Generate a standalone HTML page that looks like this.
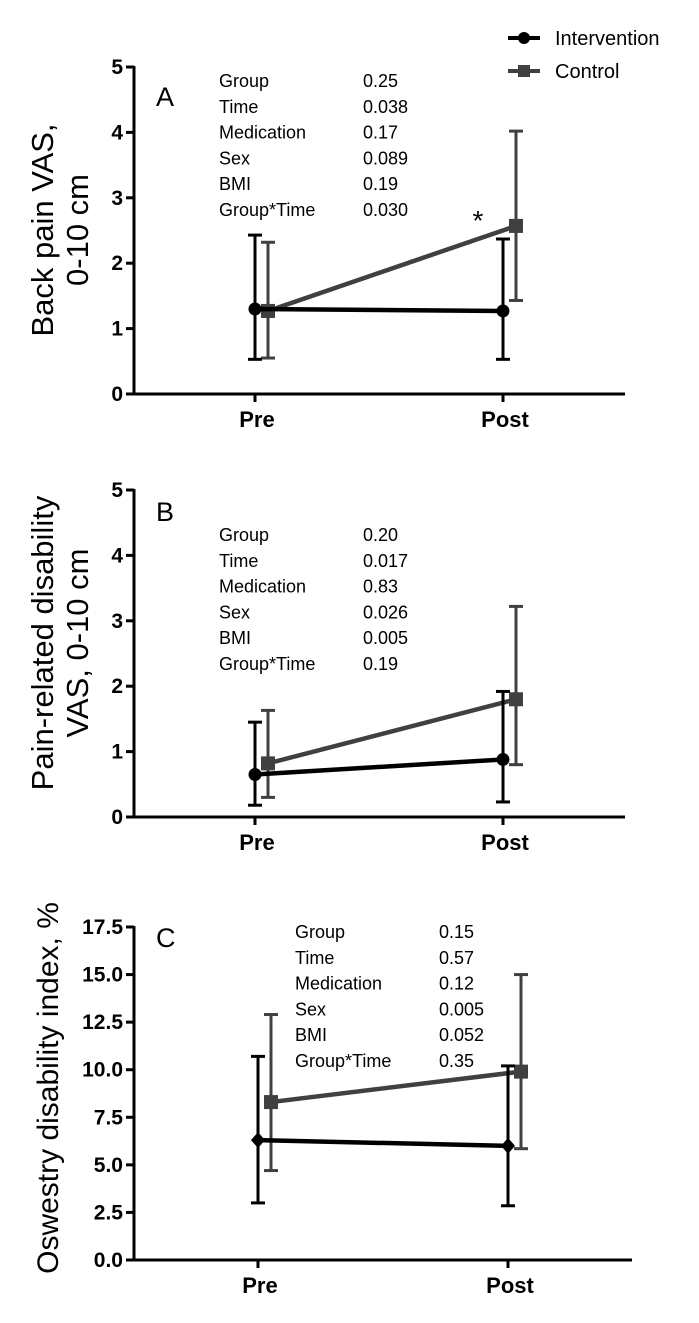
<!DOCTYPE html>
<html><head><meta charset="utf-8"><style>
html,body{margin:0;padding:0;background:#fff;}
svg{display:block;font-family:"Liberation Sans",Arial,sans-serif;}
</style></head><body>
<svg id="fig" width="699" height="1323" viewBox="0 0 699 1323">
<g>
 <g>
  <line x1="508" y1="38" x2="540" y2="38" stroke="#000" stroke-width="4"/>
  <circle cx="524" cy="38" r="6" fill="#000"/>
  <text x="555" y="45" font-size="20">Intervention</text>
 </g>
 <g>
  <line x1="508" y1="71" x2="540" y2="71" stroke="#404040" stroke-width="4"/>
  <rect x="518" y="65" width="12" height="12" fill="#404040"/>
  <text x="555" y="78" font-size="20">Control</text>
 </g>
</g>
</svg>
<script>
const categories = ["Pre", "Post"];
const panelLetters = ["A", "B", "C"];
const statLabels = ["Group", "Time", "Medication", "Sex", "BMI", "Group*Time"];
const statsA = ["0.25", "0.038", "0.17", "0.089", "0.19", "0.030"];
const statsB = ["0.20", "0.017", "0.83", "0.026", "0.005", "0.19"];
const statsC = ["0.15", "0.57", "0.12", "0.005", "0.052", "0.35"];
const ticksAB = [0, 1, 2, 3, 4, 5];
const ticksC = [0, 2.5, 5, 7.5, 10, 12.5, 15, 17.5];
const intA = [1.30, 1.27]; const intALo = [0.53, 0.53]; const intAHi = [2.43, 2.37];
const ctlA = [1.27, 2.57]; const ctlALo = [0.55, 1.43]; const ctlAHi = [2.32, 4.02];
const intB = [0.65, 0.88]; const intBLo = [0.18, 0.23]; const intBHi = [1.45, 1.92];
const ctlB = [0.82, 1.80]; const ctlBLo = [0.30, 0.80]; const ctlBHi = [1.63, 3.22];
const intC = [6.3, 6.0]; const intCLo = [3.0, 2.85]; const intCHi = [10.7, 10.2];
const ctlC = [8.3, 9.9]; const ctlCLo = [4.7, 5.85]; const ctlCHi = [12.9, 15.0];

const NS = "http://www.w3.org/2000/svg";
const svg = document.getElementById("fig");
function mk(tag, attrs, parent) {
  const e = document.createElementNS(NS, tag);
  for (const k in attrs) e.setAttribute(k, attrs[k]);
  (parent || svg).appendChild(e);
  return e;
}

function panel(cfg) {
  const g = mk("g", {});
  
  
  const x0 = 134, x1 = cfg.xEnd;
  const yTop = cfg.yTop, yBot = cfg.yBot, yMax = cfg.yMax;
  const y = v => yBot - (v / yMax) * (yBot - yTop);
  const xI = i => cfg.xPre + i * (cfg.xPost - cfg.xPre);
  const xc = i => xI(i) + 13;
  const ax = mk("g", {}, g);
  
  
  mk("line", {x1: x0, y1: yTop - 1, x2: x0, y2: yBot + 1.5, stroke: "#000", "stroke-width": 3}, ax);
  cfg.ticks.forEach(t => {
    mk("line", {x1: x0 - 8, y1: y(t), x2: x0, y2: y(t), stroke: "#000", "stroke-width": 3}, ax);
    const tx = mk("text", {x: x0 - 11, y: y(t) + 7, "font-size": 21, "font-weight": "bold", "text-anchor": "end"}, ax);
    tx.textContent = cfg.fmt(t);
    
    
  });
  const xa = mk("g", {}, g);
  
  
  mk("line", {x1: x0, y1: yBot, x2: x1, y2: yBot, stroke: "#000", "stroke-width": 3}, xa);
  categories.forEach((c, i) => {
    mk("line", {x1: xI(i), y1: yBot, x2: xI(i), y2: yBot + 8, stroke: "#000", "stroke-width": 3}, xa);
    const tx = mk("text", {x: xI(i) + 2, y: yBot + 33, "font-size": 22, "font-weight": "bold", "text-anchor": "middle"}, xa);
    tx.textContent = c;
    
    
  });
  const yt = mk("text", {transform: "translate(" + cfg.ylX + "," + cfg.ylY + ") rotate(-90)", "font-size": cfg.ylSize, "text-anchor": "middle"}, g);
  
  
  cfg.ylLines.forEach((l, i) => {
    const ts = mk("tspan", {x: 0, dy: i === 0 ? 0 : 35}, yt);
    ts.textContent = l;
  });
  const lt = mk("text", {x: 156, y: cfg.letterY, "font-size": 27}, g);
  lt.textContent = cfg.letter;
  
  
  const st = mk("g", {}, g);
  
  
  statLabels.forEach((l, i) => {
    const a = mk("text", {x: cfg.sx, y: cfg.sy + i * 25.8, "font-size": 18}, st);
    a.textContent = l;
    const b = mk("text", {x: cfg.vx, y: cfg.sy + i * 25.8, "font-size": 18}, st);
    b.textContent = cfg.stats[i];
  });
  const series = [
    {name: "control", v: cfg.ctl, lo: cfg.ctlLo, hi: cfg.ctlHi, col: "#404040", xf: xc, m: "square"},
    {name: "intervention", v: cfg.int, lo: cfg.intLo, hi: cfg.intHi, col: "#000", xf: xI, m: cfg.intMarker}
  ];
  series.forEach(s => {
    const sg = mk("g", {}, g);
    
    
    s.v.forEach((v, i) => {
      const x = s.xf(i);
      const eb = mk("g", {}, sg);
      
      
      mk("line", {x1: x, y1: y(s.lo[i]), x2: x, y2: y(s.hi[i]), stroke: s.col, "stroke-width": 3}, eb);
      mk("line", {x1: x - 7, y1: y(s.lo[i]), x2: x + 7, y2: y(s.lo[i]), stroke: s.col, "stroke-width": 3}, eb);
      mk("line", {x1: x - 7, y1: y(s.hi[i]), x2: x + 7, y2: y(s.hi[i]), stroke: s.col, "stroke-width": 3}, eb);
    });
    const ln = mk("line", {x1: s.xf(0), y1: y(s.v[0]), x2: s.xf(1), y2: y(s.v[1]), stroke: s.col, "stroke-width": 4.5}, sg);
    
    
    s.v.forEach((v, i) => {
      const x = s.xf(i), yy = y(v);
      let p;
      if (s.m === "square") p = mk("rect", {x: x - 7, y: yy - 7, width: 14, height: 14, fill: s.col}, sg);
      else if (s.m === "diamond") p = mk("polygon", {points: (x)+","+(yy-8)+" "+(x+7)+","+yy+" "+x+","+(yy+8)+" "+(x-7)+","+yy, fill: s.col}, sg);
      else p = mk("circle", {cx: x, cy: yy, r: 6.5, fill: s.col}, sg);
      
      
    });
  });
  if (cfg.star) {
    const s = mk("text", {x: 478, y: y(cfg.ctl[1]) + 4, "font-size": 28, "text-anchor": "middle"}, g);
    s.textContent = "*";
    
    
  }
}

panel({letter: "A", yTop: 67, yBot: 394, yMax: 5, ticks: ticksAB, fmt: t => String(t), xEnd: 625, xPre: 255, xPost: 503,
  ylX: 53, ylY: 230, ylSize: 31, ylLines: ["Back pain VAS,", "0-10 cm"], letterY: 106, sx: 219, vx: 363, sy: 87, stats: statsA,
  int: intA, intLo: intALo, intHi: intAHi, ctl: ctlA, ctlLo: ctlALo, ctlHi: ctlAHi, intMarker: "circle", star: true});
panel({letter: "B", yTop: 490, yBot: 817, yMax: 5, ticks: ticksAB, fmt: t => String(t), xEnd: 625, xPre: 255, xPost: 503,
  ylX: 53, ylY: 643, ylSize: 31, ylLines: ["Pain-related disability", "VAS, 0-10 cm"], letterY: 521, sx: 219, vx: 363, sy: 541, stats: statsB,
  int: intB, intLo: intBLo, intHi: intBHi, ctl: ctlB, ctlLo: ctlBLo, ctlHi: ctlBHi, intMarker: "circle", star: false});
panel({letter: "C", yTop: 927, yBot: 1260, yMax: 17.5, ticks: ticksC, fmt: t => t.toFixed(1), xEnd: 632, xPre: 258, xPost: 508,
  ylX: 58, ylY: 1088, ylSize: 30, ylLines: ["Oswestry disability index, %"], letterY: 947, sx: 295, vx: 439, sy: 938, stats: statsC,
  int: intC, intLo: intCLo, intHi: intCHi, ctl: ctlC, ctlLo: ctlCLo, ctlHi: ctlCHi, intMarker: "diamond", star: false});
</script>
</body></html>
